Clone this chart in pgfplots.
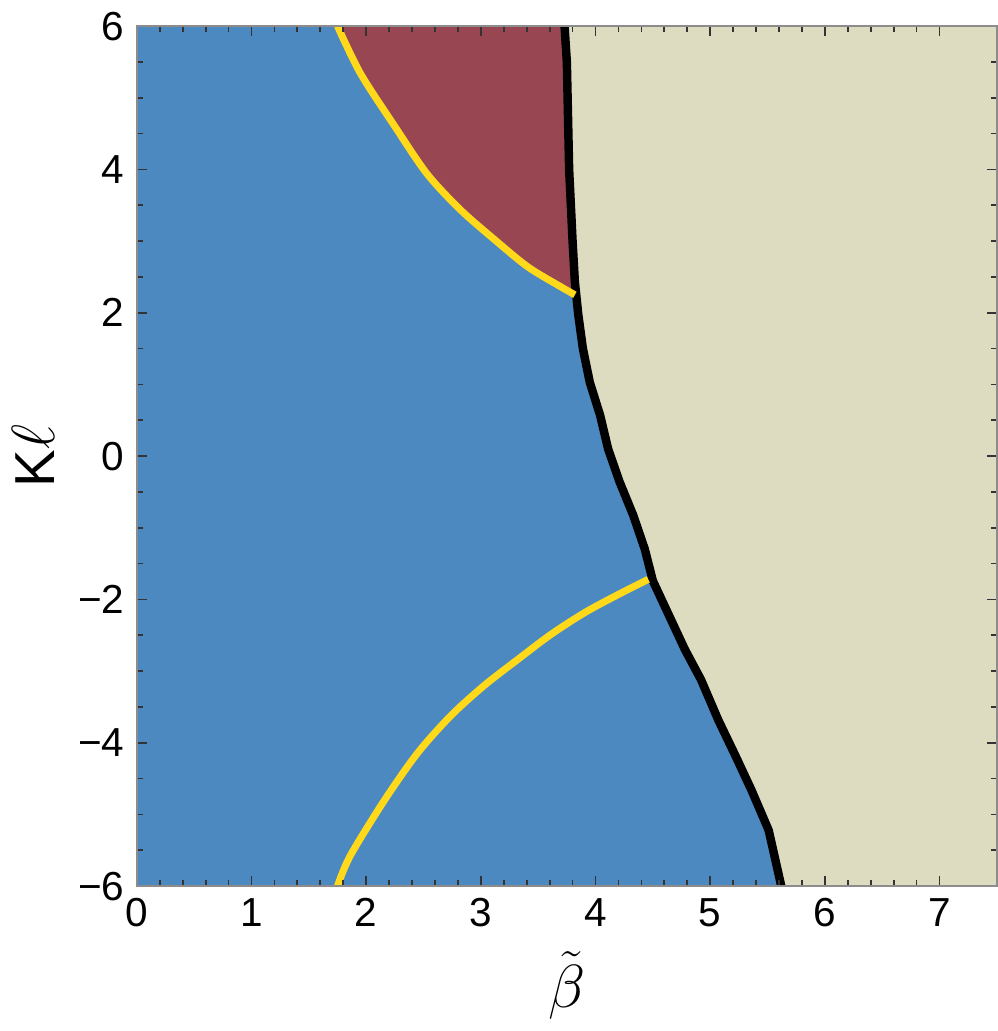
\documentclass[border=0pt]{standalone}
\usepackage{fontspec}
\setmainfont{Liberation Sans}
\usepackage{pgfplots}
\pgfplotsset{compat=1.18}
\definecolor{cblue}{HTML}{4C89C0}
\definecolor{cred}{HTML}{984752}
\definecolor{cbeige}{HTML}{DEDCC0}
\definecolor{cyel}{HTML}{FFD91A}
\begin{document}
\begin{tikzpicture}
\begin{axis}[width=8.58cm, height=8.58cm, scale only axis,
  xmin=0, xmax=7.5, ymin=-6, ymax=6,
  xtick={0,1,2,3,4,5,6,7}, ytick={-6,-4,-2,0,2,4,6},
  yticklabels={−6,−4,−2,0,2,4,6},
  minor x tick num=4, minor y tick num=3,
  tick align=inside, major tick length=0.1cm, minor tick length=0.06cm,
  tick style={black!80, line width=0.5pt},
  axis line style={black!45, line width=0.6pt},
  axis on top,
  /pgf/number format/assume math mode=true,
  ticklabel style={font=\fontsize{11.5}{13}\selectfont},
  xlabel={$\tilde{\beta}$}, ylabel={K$\ell$},
  xlabel style={font=\fontsize{18}{20}\selectfont},
  ylabel style={font=\fontsize{16}{18}\selectfont},
  clip=true]
% blue background
\addplot[fill=cblue, draw=none] coordinates {(0,-6) (7.5,-6) (7.5,6) (0,6)} --cycle;
% beige region right of the boundary
\addplot[fill=cbeige, draw=none] coordinates {(3.73,6.0) (3.75,5.5) (3.77,4.0) (3.80,3.0) (3.82,2.43) (3.85,1.97) (3.89,1.50) (3.95,1.03) (4.04,0.57) (4.11,0.10) (4.21,-0.36) (4.33,-0.83) (4.43,-1.30) (4.50,-1.74) (4.78,-2.70) (4.92,-3.12) (5.07,-3.68) (5.22,-4.18) (5.36,-4.66) (5.51,-5.22) (5.62,-6.0) (7.5,-6) (7.5,6)} --cycle;
% red region
\addplot[fill=cred, draw=none] coordinates {(1.75,6.0) (1.95,5.34) (2.25,4.60) (2.53,3.94) (2.82,3.44) (3.12,3.02) (3.41,2.64) (3.70,2.36) (3.82,2.25) (3.82,2.43) (3.80,3.0) (3.77,4.0) (3.75,5.5) (3.73,6.0)} --cycle;
% boundary
\addplot[black, line width=2.4pt] coordinates {(3.73,6.0) (3.75,5.5) (3.77,4.0) (3.80,3.0) (3.82,2.43) (3.85,1.97) (3.89,1.50) (3.95,1.03) (4.04,0.57) (4.11,0.10) (4.21,-0.36) (4.33,-0.83) (4.43,-1.30) (4.50,-1.74) (4.78,-2.70) (4.92,-3.12) (5.07,-3.68) (5.22,-4.18) (5.36,-4.66) (5.51,-5.22) (5.62,-6.0)};
% yellow curves
\addplot[cyel, line width=2pt, smooth] coordinates {(1.75,6.0) (1.95,5.34) (2.25,4.60) (2.53,3.94) (2.82,3.44) (3.12,3.02) (3.41,2.64) (3.70,2.36) (3.82,2.25)};
\addplot[cyel, line width=2pt, smooth] coordinates {(1.75,-6.0) (1.86,-5.58) (2.16,-4.80) (2.45,-4.14) (2.74,-3.62) (3.03,-3.20) (3.32,-2.84) (3.61,-2.49) (3.91,-2.18) (4.20,-1.93) (4.46,-1.72)};
\end{axis}
\end{tikzpicture}
\end{document}
